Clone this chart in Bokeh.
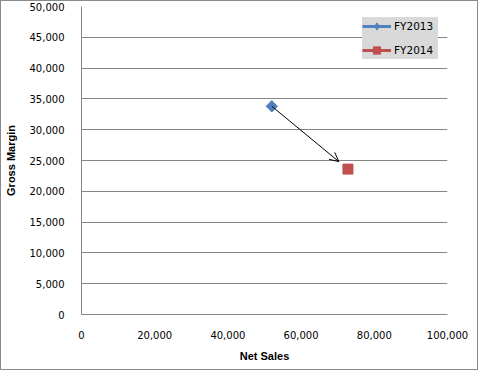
from bokeh.plotting import figure
from bokeh.models import Range1d, NumeralTickFormatter, FixedTicker, Arrow, OpenHead, Legend, LegendItem
from bokeh.embed import file_html
from bokeh.resources import INLINE
import math

# ---- data ----
years = ["FY2013", "FY2014"]
net_sales = [52000, 72800]
gross_margin = [33800, 23600]
colors = ["#4F81BD", "#C0504D"]
x_ticks = [0, 20000, 40000, 60000, 80000, 100000]
y_ticks = [0, 5000, 10000, 15000, 20000, 25000, 30000, 35000, 40000, 45000, 50000]

W, H = 473, 368
p = figure(width=W, height=H, output_backend="svg", toolbar_location=None,
           x_range=Range1d(0, 100000), y_range=Range1d(0, 50000),
           min_border_left=77, min_border_top=5, min_border_right=30, min_border_bottom=55)
p.styles = {"border": "1px solid #8a8a8a"}
p.frame_width = 366
p.frame_height = 308
p.outline_line_color = None
p.background_fill_color = "white"
p.border_fill_color = "white"

grid_col = "#868686"
p.xgrid.grid_line_color = None
p.ygrid.grid_line_color = grid_col
p.ygrid.grid_line_width = 1

for ax in (p.xaxis[0], p.yaxis[0]):
    ax.axis_line_color = grid_col
    ax.major_tick_line_color = None
    ax.minor_tick_line_color = None
    ax.major_label_text_font = "DejaVu Sans"
    ax.major_label_text_font_size = "10px"
    ax.major_label_text_color = "#000000"
    ax.axis_label_text_font = "Liberation Sans"
    ax.axis_label_text_font_style = "bold"
    ax.axis_label_text_font_size = "11px"
    ax.axis_label_text_color = "#000000"
    ax.formatter = NumeralTickFormatter(format="0,0")

p.xaxis.ticker = FixedTicker(ticks=x_ticks)
p.yaxis.ticker = FixedTicker(ticks=y_ticks)
p.xaxis.axis_label = "Net Sales"
p.yaxis.axis_label = "Gross Margin"
p.xaxis.major_label_standoff = 10
p.yaxis.major_label_standoff = 11
p.xaxis.axis_label_standoff = 8
p.yaxis.axis_label_standoff = 10

# arrow from FY2013 to FY2014 (shortened slightly so head stops before marker)
f = 0.88
ex = net_sales[0] + f * (net_sales[1] - net_sales[0])
ey = gross_margin[0] + f * (gross_margin[1] - gross_margin[0])
p.add_layout(Arrow(end=OpenHead(size=9, line_color="black", line_width=1),
                   x_start=net_sales[0], y_start=gross_margin[0], x_end=ex, y_end=ey,
                   line_color="black", line_width=1))

legend_marker = ["diamond", "square"]
legend_size = [11, 10]
items = []
for i in range(len(years)):
    ln = p.line([net_sales[i]], [gross_margin[i]], line_color=colors[i], line_width=3)
    lg = p.scatter([net_sales[i]], [gross_margin[i]], marker=legend_marker[i], size=legend_size[i],
                   fill_color=colors[i], line_color=colors[i])
    items.append(LegendItem(label=years[i], renderers=[ln, lg]))

# FY2013 shown as a wide diamond (rotated square) over its legend marker
p.scatter([net_sales[0]], [gross_margin[0]], marker="square", size=8, angle=math.pi / 4,
          fill_color=colors[0], line_color=colors[0])

legend = Legend(items=items, location=(281, 255))
legend.background_fill_color = "#d9d9d9"
legend.background_fill_alpha = 1
legend.border_line_color = None
legend.label_text_font = "DejaVu Sans"
legend.label_text_font_size = "10.5px"
legend.label_text_color = "#000000"
legend.glyph_width = 29
legend.glyph_height = 18
legend.label_standoff = 3
legend.label_width = 44
legend.padding = 3
legend.spacing = 6
legend.margin = 0
legend.label_height = 18
p.add_layout(legend)

open("out.html", "w").write(file_html(p, INLINE))
